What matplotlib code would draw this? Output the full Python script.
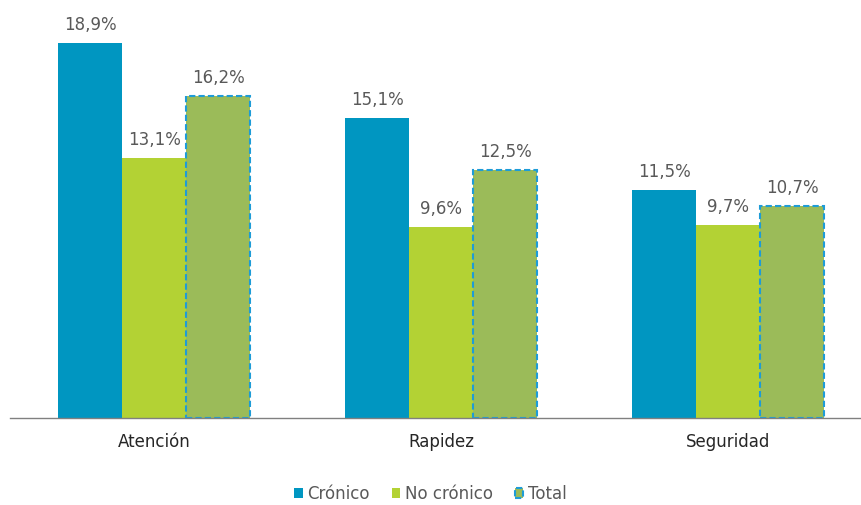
import matplotlib
matplotlib.use("Agg")
import matplotlib.pyplot as plt
import numpy as np

plt.rcParams["font.family"] = ["DejaVu Sans"]

categories = ["Atención", "Rapidez", "Seguridad"]
series = ["Crónico", "No crónico", "Total"]
cronico = [18.9, 15.1, 11.5]
no_cronico = [13.1, 9.6, 9.7]
total = [16.2, 12.5, 10.7]

colors = ["#0096C1", "#B3D234", "#9BBB59"]
edge_total = "#1E9CD7"
text_color = "#595959"

fig = plt.figure(figsize=(8.61, 5.05), dpi=100)
ax = fig.add_axes([10 / 861, 87 / 505, 1 - 10 / 861, 417 / 505])

x = np.arange(len(categories))
w = 0.223
vals = [cronico, no_cronico, total]
for i, (name, v, c) in enumerate(zip(series, vals, colors)):
    pos = x + (i - 1) * w
    if name == "Total":
        bars = ax.bar(pos, v, w, color=c, edgecolor=edge_total, linewidth=1.5,
                      linestyle=(0, (3, 1.5)), label=name)
    else:
        bars = ax.bar(pos, v, w, color=c, label=name)
    for b, val in zip(bars, v):
        ax.text(b.get_x() + b.get_width() / 2, val + 0.45, f"{val:.1f}".replace(".", ",") + "%",
                ha="center", va="bottom", fontsize=12, color=text_color)

ax.set_xlim(-0.502, 2.463)
ax.set_ylim(0, 21)
ax.set_xticks(x)
ax.set_xticklabels(categories, fontsize=12, color="#262626")
ax.tick_params(axis="x", length=0, pad=11)
ax.set_yticks([])
for s in ["top", "right", "left"]:
    ax.spines[s].set_visible(False)
ax.spines["bottom"].set_color("#808080")
ax.spines["bottom"].set_linewidth(1.0)

leg = fig.legend(loc="center", bbox_to_anchor=(0.5, 11 / 505), ncol=3, frameon=False,
                 fontsize=12, handlelength=0.5, handleheight=0.5, handletextpad=0.3,
                 columnspacing=1.3)
for t in leg.get_texts():
    t.set_color(text_color)

fig.savefig("out.png", dpi=100)
